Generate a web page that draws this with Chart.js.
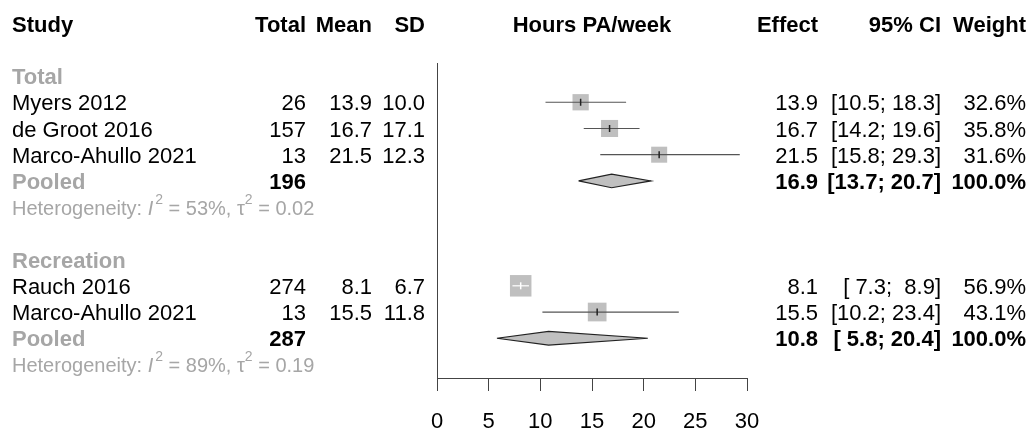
<!DOCTYPE html>
<html>
<head>
<meta charset="utf-8">
<script src="https://cdn.jsdelivr.net/npm/chart.js@4.4.0/dist/chart.umd.min.js"></script>
<style>
  html, body { margin: 0; padding: 0; background: #ffffff; }
  #forest { display: block; }
</style>
</head>
<body>
<canvas id="forest" width="1030" height="428"></canvas>
<script>
// Study level data
const studyNames = ['Myers 2012', 'de Groot 2016', 'Marco-Ahullo 2021', 'Rauch 2016', 'Marco-Ahullo 2021'];
const studyRows = [3, 4, 5, 10, 11];
const studyTotal = [26, 157, 13, 274, 13];
const studyMean = [13.9, 16.7, 21.5, 8.1, 15.5];
const studySD = [10.0, 17.1, 12.3, 6.7, 11.8];
const studyLower = [10.5, 14.2, 15.8, 7.3, 10.2];
const studyUpper = [18.3, 19.6, 29.3, 8.9, 23.4];
const studyWeight = [32.6, 35.8, 31.6, 56.9, 43.1];

// Subgroup level data
const groupNames = ['Total', 'Recreation'];
const groupHeadRows = [2, 9];
const pooledRows = [6, 12];
const hetRows = [7, 13];
const pooledTotal = [196, 287];
const pooledEst = [16.9, 10.8];
const pooledLower = [13.7, 5.8];
const pooledUpper = [20.7, 20.4];
const hetI2 = ['53%', '89%'];
const hetTau2 = ['0.02', '0.19'];

// Axis
const xTicks = [0, 5, 10, 15, 20, 25, 30];

const FONT = '"Liberation Sans", Arial, sans-serif';
const FS = 22;
const GREY = '#a6a6a6';
const ciColors = ['#555555', '#555555', '#555555', '#ffffff', '#555555'];
const tickColors = ['#222222', '#222222', '#222222', '#ffffff', '#222222'];

const fmt = v => v.toFixed(1);
const fmtCI = (lo, hi) => `[${fmt(lo).padStart(4)}; ${fmt(hi).padStart(4)}]`;

// CI whiskers, one line per study
const ciSets = studyNames.map((n, i) => ({
    type: 'line',
    data: [{ x: studyLower[i], y: studyRows[i] }, { x: studyUpper[i], y: studyRows[i] }],
    borderColor: ciColors[i],
    borderWidth: 1.2,
    pointRadius: 0,
    fill: false,
    order: 1
}));

// Pooled diamonds
const diamondSets = groupNames.map((g, i) => ({
    type: 'line',
    data: [
        { x: pooledLower[i], y: pooledRows[i] },
        { x: pooledEst[i], y: pooledRows[i] - 0.26 },
        { x: pooledUpper[i], y: pooledRows[i] },
        { x: pooledEst[i], y: pooledRows[i] + 0.26 },
        { x: pooledLower[i], y: pooledRows[i] }
    ],
    borderColor: '#222222',
    borderWidth: 1.2,
    backgroundColor: '#c0c0c0',
    fill: 'shape',
    tension: 0,
    pointRadius: 0,
    order: 3
}));

const squareSet = {
    type: 'line',
    data: studyMean.map((m, i) => ({ x: m, y: studyRows[i] })),
    showLine: false,
    pointStyle: 'rect',
    pointRadius: studyWeight.map(w => 2.015 * Math.sqrt(w)),
    pointBackgroundColor: '#bfbfbf',
    pointBorderWidth: 0,
    order: 2
};

const estTickSet = {
    type: 'line',
    data: studyMean.map((m, i) => ({ x: m, y: studyRows[i] })),
    showLine: false,
    pointStyle: 'line',
    rotation: 90,
    pointRadius: 3.5,
    pointBorderColor: tickColors,
    pointBorderWidth: 1.5,
    order: 0
};

// Table text around the plot
const tablePlugin = {
    id: 'forestTable',
    afterDraw(chart) {
        const ctx = chart.ctx;
        const ys = chart.scales.y;
        const rowY = r => ys.getPixelForValue(r) + 2;

        const text = (str, x, row, align, bold, color, size) => {
            ctx.font = `${bold ? 'bold ' : ''}${size || FS}px ${FONT}`;
            ctx.fillStyle = color || '#000000';
            ctx.textAlign = align;
            ctx.textBaseline = 'middle';
            ctx.fillText(str, x, rowY(row));
        };

        const col = { study: 12, total: 306, mean: 372, sd: 425, plot: 592, effect: 818, ci: 941, weight: 1026 };

        ctx.save();
        // header
        text('Study', col.study, 0, 'left', true);
        text('Total', col.total, 0, 'right', true);
        text('Mean', col.mean, 0, 'right', true);
        text('SD', col.sd, 0, 'right', true);
        text('Hours PA/week', col.plot, 0, 'center', true);
        text('Effect', col.effect, 0, 'right', true);
        text('95% CI', col.ci, 0, 'right', true);
        text('Weight', col.weight, 0, 'right', true);

        // studies
        studyNames.forEach((n, i) => {
            const r = studyRows[i];
            text(n, col.study, r, 'left');
            text(String(studyTotal[i]), col.total, r, 'right');
            text(fmt(studyMean[i]), col.mean, r, 'right');
            text(fmt(studySD[i]), col.sd, r, 'right');
            text(fmt(studyMean[i]), col.effect, r, 'right');
            text(fmtCI(studyLower[i], studyUpper[i]), col.ci, r, 'right');
            text(fmt(studyWeight[i]) + '%', col.weight, r, 'right');
        });

        // subgroups
        groupNames.forEach((g, i) => {
            text(g, col.study, groupHeadRows[i], 'left', true, GREY);
            const pr = pooledRows[i];
            text('Pooled', col.study, pr, 'left', true, GREY);
            text(String(pooledTotal[i]), col.total, pr, 'right', true);
            text(fmt(pooledEst[i]), col.effect, pr, 'right', true);
            text(fmtCI(pooledLower[i], pooledUpper[i]), col.ci, pr, 'right', true);
            text('100.0%', col.weight, pr, 'right', true);

            // heterogeneity line with superscripts
            const hs = 20;
            const y = rowY(hetRows[i]);
            const parts = [
                { t: 'Heterogeneity: ' },
                { t: 'I', it: true },
                { t: '2', sup: true },
                { t: ' = ' + hetI2[i] + ', ' },
                { t: '\u03c4' },
                { t: '2', sup: true },
                { t: ' = ' + hetTau2[i] }
            ];
            let x = col.study;
            ctx.fillStyle = GREY;
            ctx.textAlign = 'left';
            ctx.textBaseline = 'middle';
            parts.forEach(p => {
                const size = p.sup ? 14 : hs;
                ctx.font = `${p.it ? 'italic ' : ''}${size}px ${FONT}`;
                ctx.fillText(p.t, x, p.sup ? y - 9 : y);
                x += ctx.measureText(p.t).width + (p.it ? 2 : 0);
            });
        });
        ctx.restore();
    }
};

Chart.defaults.font.family = FONT;

new Chart(document.getElementById('forest'), {
    type: 'line',
    data: {
        datasets: [estTickSet, ...ciSets, squareSet, ...diamondSets]
    },
    options: {
        responsive: false,
        animation: false,
        layout: { padding: { left: 437, right: 283, top: 63, bottom: 0 } },
        scales: {
            x: {
                type: 'linear',
                min: xTicks[0],
                max: xTicks[xTicks.length - 1],
                afterBuildTicks: s => { s.ticks = xTicks.map(v => ({ value: v })); },
                afterFit: s => { s.height = 50; },
                ticks: { color: '#000000', font: { size: FS }, padding: 18, maxRotation: 0, autoSkip: false },
                grid: { drawOnChartArea: false, drawTicks: true, tickLength: 13, color: '#444444', lineWidth: 1 },
                border: { display: true, color: '#444444', width: 1 }
            },
            y: {
                type: 'linear',
                reverse: true,
                min: 1.503,
                max: 13.516,
                afterFit: s => { s.width = 0; },
                ticks: { display: false },
                grid: { display: false, drawTicks: false },
                border: { display: true, color: '#444444', width: 1 }
            }
        },
        plugins: {
            legend: { display: false },
            tooltip: { enabled: false }
        }
    },
    plugins: [tablePlugin]
});
</script>
</body>
</html>
